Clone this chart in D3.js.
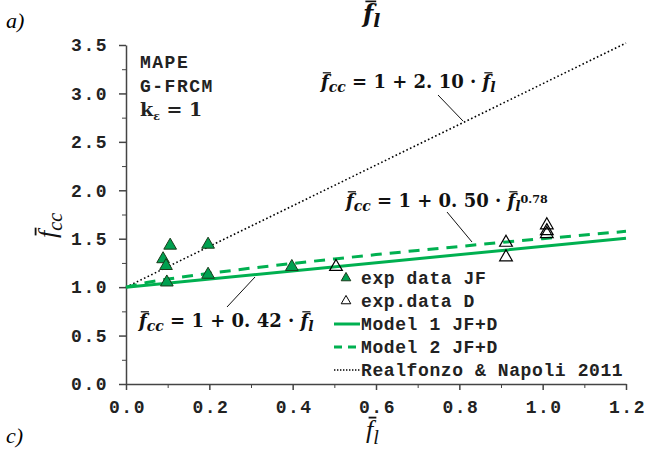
<!DOCTYPE html>
<html>
<head>
<meta charset="utf-8">
<title>MAPE G-FRCM</title>
<style>
  body { margin: 0; background: #fff; }
  .tick text { font-family: "Liberation Mono", monospace; font-weight: bold; font-size: 18px; fill: #222; }
  .axis path, .axis line { stroke: #444; }
</style>
</head>
<body>
<svg id="chart" width="646" height="451"></svg>
<script src="https://d3js.org/d3.v7.min.js"></script>
<script>
const jfX = [0.089, 0.106, 0.096, 0.098, 0.197, 0.197, 0.398];
const jfY = [1.29, 1.43, 1.22, 1.05, 1.44, 1.13, 1.21];
const dX = [0.504, 0.912, 0.912, 1.01, 1.01, 1.01];
const dY = [1.21, 1.31, 1.46, 1.64, 1.58, 1.55];

// model curves
const model1X = [0, 1.2];
const model1Y = [1, 1.504];
const model2X = [0, 0.05, 0.1, 0.2, 0.3, 0.4, 0.5, 0.6, 0.7, 0.8, 0.9, 1.0, 1.1, 1.2];
const model2Y = [1, 1.048, 1.083, 1.143, 1.196, 1.245, 1.291, 1.336, 1.379, 1.420, 1.461, 1.5, 1.539, 1.576];
const realX = [0, 1.2];
const realY = [1, 3.52];

const xTicks = [0, 0.2, 0.4, 0.6, 0.8, 1.0, 1.2];
const yTicks = [0, 0.5, 1.0, 1.5, 2.0, 2.5, 3.0, 3.5];
const legendLabels = ['exp data JF', 'exp.data D', 'Model 1 JF+D', 'Model 2 JF+D', 'Realfonzo & Napoli 2011'];

const green = '#00b050';
const svg = d3.select('#chart');
const x = d3.scaleLinear().domain([0, 1.2]).range([126, 626]);
const y = d3.scaleLinear().domain([0, 3.5]).range([384, 45]);

// minor ticks
svg.append('g').attr('class', 'axis').attr('transform', 'translate(126,0)')
  .call(d3.axisLeft(y).tickValues(d3.range(0.25, 3.5, 0.5)).tickSize(4).tickFormat(''))
  .call(g => g.select('.domain').remove());
svg.append('g').attr('class', 'axis').attr('transform', 'translate(0,384)')
  .call(d3.axisBottom(x).tickValues(d3.range(0.1, 1.2, 0.2)).tickSize(4).tickFormat(''))
  .call(g => g.select('.domain').remove());

// major axes
svg.append('g').attr('class', 'axis').attr('transform', 'translate(126,0)')
  .call(d3.axisLeft(y).tickValues(yTicks).tickSize(7).tickSizeOuter(0).tickPadding(12).tickFormat(d3.format('.1f')))
  .call(g => g.selectAll('path, line').attr('stroke-width', 1.5))
  .call(g => g.selectAll('text').attr('letter-spacing', '1.5px').attr('dx', '1px'));
svg.append('g').attr('class', 'axis').attr('transform', 'translate(0,384)')
  .call(d3.axisBottom(x).tickValues(xTicks).tickSize(6).tickSizeOuter(0).tickPadding(10).tickFormat(d3.format('.1f')))
  .call(g => g.selectAll('path, line').attr('stroke-width', 1.5))
  .call(g => g.selectAll('text').attr('letter-spacing', '1.5px').attr('dx', '1px'));

const line = d3.line().x(d => x(d[0])).y(d => y(d[1]));

svg.append('path').datum(d3.zip(realX, realY)).attr('d', line)
  .attr('fill', 'none').attr('stroke', '#000').attr('stroke-width', 1.6).attr('stroke-dasharray', '1.6,2.4');
svg.append('path').datum(d3.zip(model1X, model1Y)).attr('d', line)
  .attr('fill', 'none').attr('stroke', green).attr('stroke-width', 3);
svg.append('path').datum(d3.zip(model2X, model2Y)).attr('d', line)
  .attr('fill', 'none').attr('stroke', green).attr('stroke-width', 3).attr('stroke-dasharray', '11,8');

const tri = d3.symbol().type(d3.symbolTriangle).size(70);
svg.append('g').selectAll('path').data(d3.zip(dX, dY)).join('path')
  .attr('d', tri).attr('transform', d => `translate(${x(d[0])},${y(d[1])})`)
  .attr('fill', 'none').attr('stroke', '#000').attr('stroke-width', 1.2);
svg.append('g').selectAll('path').data(d3.zip(jfX, jfY)).join('path')
  .attr('d', tri).attr('transform', d => `translate(${x(d[0])},${y(d[1])})`)
  .attr('fill', '#00a050').attr('stroke', '#1a3a1a').attr('stroke-width', 1);

// math text helper: parts with optional bar / sub / sup
function mathText(px, py, parts, size, opts = {}) {
  const t = svg.append('text').attr('x', px).attr('y', py)
    .style('white-space', 'pre')
    .attr('font-family', opts.family || '"DejaVu Serif", serif').attr('font-size', size)
    .attr('font-weight', opts.weight || 'bold').attr('fill', '#111');
  if (opts.rotate) t.attr('transform', `rotate(-90,${px},${py})`);
  let idx = 0;
  const bars = [];
  parts.forEach(p => {
    const s = t.append('tspan').text(p.t);
    if (p.it) s.attr('font-style', 'italic');
    if (p.sub) s.attr('font-size', size * 0.78).attr('dy', size * 0.22);
    if (p.up) s.attr('dy', -size * 0.22);
    if (p.sup) s.attr('font-size', size * 0.62).attr('dy', -size * 0.45);
    if (p.bar) bars.push(idx);
    idx += p.t.length;
  });
  const node = t.node();
  bars.forEach(i => {
    const e = node.getExtentOfChar(i);
    const by = e.y + size * 0.1;
    const l = svg.append('line')
      .attr('x1', e.x + size * 0.1).attr('x2', e.x + e.width + size * 0.12)
      .attr('y1', by).attr('y2', by)
      .attr('stroke', '#111').attr('stroke-width', Math.max(1.2, size * 0.07));
    if (opts.rotate) l.attr('transform', `rotate(-90,${px},${py})`);
  });
  return t;
}

const fcc = [{t: 'f', it: true, bar: true}, {t: 'cc', it: true, sub: true}];
const fl = [{t: 'f', it: true, bar: true}, {t: 'l', it: true, sub: true}];

mathText(321, 88, [...fcc, {t: ' = 1 + 2. 10 · ', up: true}, ...fl], 18);
mathText(346, 207, [...fcc, {t: ' = 1 + 0. 50 · ', up: true}, ...fl, {t: '0.78', sup: true}], 18);
mathText(139, 327, [...fcc, {t: ' = 1 + 0. 42 · ', up: true}, ...fl], 18);

// leader lines
const leaders = [[438, 95, 463, 121], [447, 212, 472, 242], [227, 307, 255, 277]];
svg.append('g').selectAll('line').data(leaders).join('line')
  .attr('x1', d => d[0]).attr('y1', d => d[1]).attr('x2', d => d[2]).attr('y2', d => d[3])
  .attr('stroke', '#111').attr('stroke-width', 1);

// axis titles
mathText(363, 22, fl, 24);
mathText(366, 438, fl, 26, {weight: 'normal', family: '"Liberation Serif", serif'});
mathText(56, 238, fcc, 26, {weight: 'normal', family: '"Liberation Serif", serif', rotate: true});

// panel letters
svg.append('text').attr('x', 6).attr('y', 28).text('a)')
  .attr('font-family', '"Liberation Serif", serif').attr('font-style', 'italic').attr('font-size', 22);
svg.append('text').attr('x', 6).attr('y', 443).text('c)')
  .attr('font-family', '"Liberation Serif", serif').attr('font-style', 'italic').attr('font-size', 22);

// inner notes
const note = svg.append('g').attr('font-family', '"Liberation Mono", monospace').attr('font-weight', 'bold')
  .attr('font-size', 18).attr('fill', '#222').attr('letter-spacing', '1.5px');
note.append('text').attr('x', 140).attr('y', 68).text('MAPE');
note.append('text').attr('x', 140).attr('y', 92).text('G-FRCM');
const k = svg.append('text').attr('x', 140).attr('y', 116)
  .attr('font-family', '"DejaVu Serif", serif').attr('font-weight', 'bold').attr('font-size', 19).attr('fill', '#222');
k.append('tspan').text('k');
k.append('tspan').text('ε').attr('font-size', 11).attr('dy', 4);
k.append('tspan').text(' = 1').attr('dy', -4);

// legend
const rows = [278, 301, 324, 347, 370];
const leg = svg.append('g');
leg.selectAll('text').data(legendLabels).join('text')
  .attr('x', 361).attr('y', (d, i) => rows[i]).attr('dy', '0.35em').text(d => d)
  .attr('font-family', '"Liberation Mono", monospace').attr('font-weight', 'bold')
  .attr('font-size', 18).attr('fill', '#222').attr('letter-spacing', '0.6px');
const smallTri = d3.symbol().type(d3.symbolTriangle).size(40);
leg.append('path').attr('d', smallTri).attr('transform', `translate(346,${rows[0]})`)
  .attr('fill', '#00a050').attr('stroke', '#1a3a1a');
leg.append('path').attr('d', smallTri).attr('transform', `translate(346,${rows[1]})`)
  .attr('fill', 'none').attr('stroke', '#000');
leg.append('line').attr('x1', 334).attr('x2', 360).attr('y1', rows[2]).attr('y2', rows[2])
  .attr('stroke', green).attr('stroke-width', 3);
leg.append('line').attr('x1', 334).attr('x2', 360).attr('y1', rows[3]).attr('y2', rows[3])
  .attr('stroke', green).attr('stroke-width', 3).attr('stroke-dasharray', '8,6');
leg.append('line').attr('x1', 334).attr('x2', 360).attr('y1', rows[4]).attr('y2', rows[4])
  .attr('stroke', '#000').attr('stroke-width', 1.4).attr('stroke-dasharray', '1.4,1.6');
</script>
</body>
</html>
